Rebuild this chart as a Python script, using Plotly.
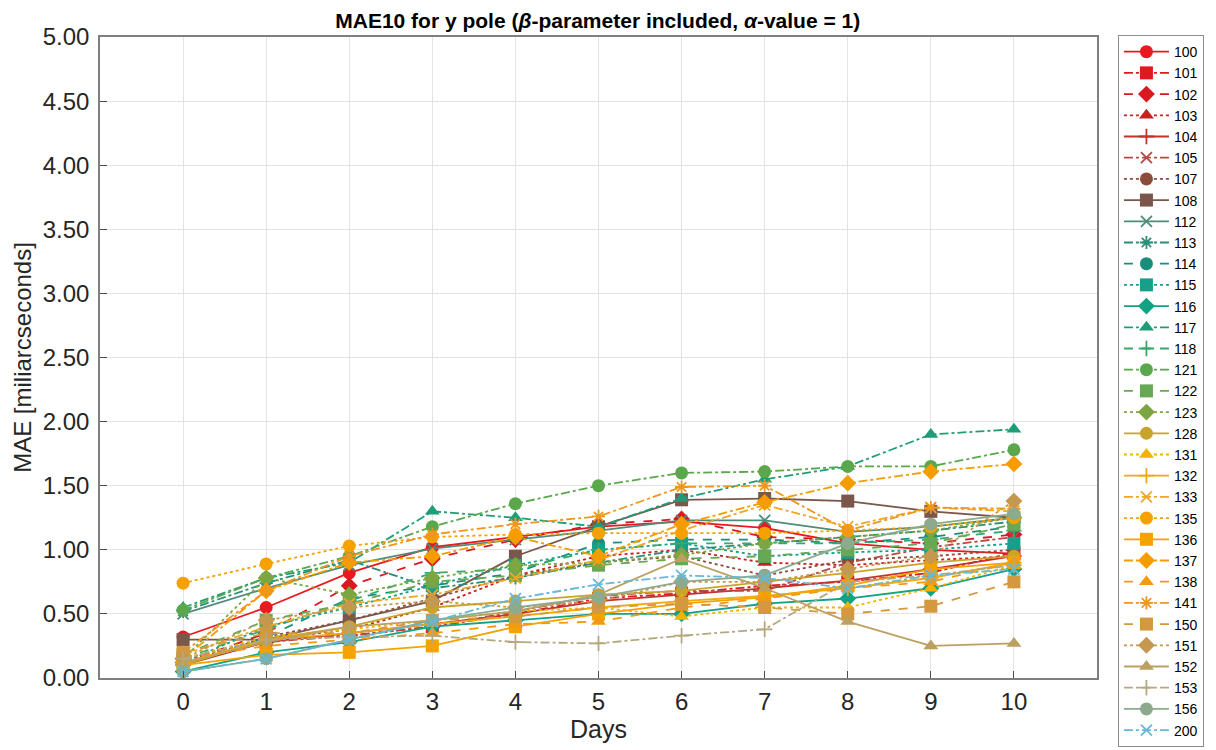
import plotly.graph_objects as go

days = list(range(0, 11))

series_names = ["100", "101", "102", "103", "104", "105", "107", "108",
                "112", "113", "114", "115", "116", "117", "118",
                "121", "122", "123",
                "128", "131", "132", "133", "135", "136", "137", "138", "141",
                "150", "151", "152", "153", "156", "200"]

v100 = [0.32, 0.55, 0.82, 1.02, 1.10, 1.18, 1.22, 1.17, 1.05, 1.00, 0.97]
v101 = [0.15, 0.30, 0.33, 0.40, 0.50, 0.62, 0.66, 0.72, 0.75, 0.82, 0.98]
v102 = [0.12, 0.35, 0.72, 0.93, 1.08, 1.20, 1.24, 1.10, 1.08, 1.05, 1.12]
v103 = [0.13, 0.30, 0.38, 0.55, 0.80, 0.95, 1.00, 0.90, 0.88, 0.92, 0.95]
v104 = [0.10, 0.28, 0.35, 0.42, 0.50, 0.60, 0.65, 0.70, 0.76, 0.85, 0.95]
v105 = [0.12, 0.28, 0.33, 0.40, 0.52, 0.64, 0.68, 0.68, 0.90, 1.02, 1.10]
v107 = [0.10, 0.32, 0.45, 0.62, 0.80, 0.90, 0.95, 0.80, 0.92, 0.95, 1.00]
v108 = [0.30, 0.30, 0.45, 0.60, 0.95, 1.18, 1.39, 1.40, 1.38, 1.30, 1.25]
v112 = [0.50, 0.70, 0.88, 1.01, 1.08, 1.15, 1.23, 1.23, 1.14, 1.18, 1.25]
v113 = [0.52, 0.74, 0.92, 0.70, 0.78, 0.90, 1.00, 1.05, 1.10, 1.15, 1.22]
v114 = [0.10, 0.32, 0.62, 0.72, 0.82, 1.05, 1.08, 1.08, 1.05, 1.10, 1.18]
v115 = [0.12, 0.40, 0.55, 0.72, 0.88, 1.00, 1.05, 0.95, 0.98, 1.00, 1.05]
v116 = [0.05, 0.20, 0.28, 0.40, 0.45, 0.50, 0.50, 0.58, 0.62, 0.70, 0.85]
v117 = [0.55, 0.78, 0.90, 1.30, 1.25, 1.18, 1.40, 1.55, 1.65, 1.90, 1.94]
v118 = [0.15, 0.38, 0.60, 0.82, 0.85, 1.00, 1.05, 1.05, 1.05, 1.08, 1.15]
v121 = [0.53, 0.78, 0.95, 1.18, 1.36, 1.50, 1.60, 1.61, 1.65, 1.65, 1.78]
v122 = [0.18, 0.45, 0.58, 0.75, 0.80, 0.88, 0.93, 0.95, 1.00, 1.05, 1.20]
v123 = [0.15, 0.78, 0.65, 0.78, 0.88, 0.90, 0.96, 1.05, 1.10, 1.15, 1.25]
v128 = [0.10, 0.30, 0.40, 0.55, 0.60, 0.65, 0.68, 0.75, 0.82, 0.90, 0.95]
v131 = [0.15, 0.32, 0.38, 0.45, 0.52, 0.55, 0.48, 0.55, 0.55, 0.70, 0.88]
v132 = [0.12, 0.30, 0.35, 0.42, 0.48, 0.55, 0.60, 0.64, 0.70, 0.78, 0.90]
v133 = [0.18, 0.40, 0.58, 0.65, 0.78, 0.92, 1.15, 1.35, 1.18, 1.33, 1.30]
v135 = [0.74, 0.89, 1.03, 1.10, 1.12, 1.13, 1.13, 1.13, 1.15, 1.18, 1.25]
v136 = [0.10, 0.18, 0.20, 0.25, 0.40, 0.50, 0.58, 0.63, 0.72, 0.85, 0.90]
v137 = [0.15, 0.68, 0.90, 0.95, 1.10, 0.95, 1.20, 1.37, 1.52, 1.61, 1.67]
v138 = [0.15, 0.25, 0.30, 0.35, 0.42, 0.44, 0.55, 0.62, 0.70, 0.75, 0.90]
v141 = [0.20, 0.68, 0.95, 1.12, 1.20, 1.26, 1.49, 1.50, 1.15, 1.33, 1.32]
v150 = [0.20, 0.35, 0.35, 0.45, 0.48, 0.55, 0.58, 0.55, 0.50, 0.56, 0.75]
v151 = [0.15, 0.45, 0.55, 0.60, 0.55, 0.60, 0.75, 0.75, 0.85, 0.95, 1.38]
v152 = [0.12, 0.28, 0.40, 0.45, 0.52, 0.65, 0.93, 0.70, 0.44, 0.25, 0.27]
v153 = [0.15, 0.30, 0.32, 0.33, 0.28, 0.27, 0.33, 0.38, 0.75, 0.80, 0.88]
v156 = [0.05, 0.15, 0.30, 0.45, 0.55, 0.63, 0.75, 0.80, 1.05, 1.20, 1.28]
v200 = [0.05, 0.15, 0.30, 0.44, 0.62, 0.73, 0.80, 0.78, 0.70, 0.80, 0.85]

series_values = [v100, v101, v102, v103, v104, v105, v107, v108,
                 v112, v113, v114, v115, v116, v117, v118,
                 v121, v122, v123,
                 v128, v131, v132, v133, v135, v136, v137, v138, v141,
                 v150, v151, v152, v153, v156, v200]

colors = ["#E8191F", "#E0191F", "#D9191F", "#C8201F", "#C2332B", "#B54A45", "#8E4A3A", "#7A574A",
          "#4E8C78", "#2C8E7A", "#1A8E7C", "#16A08A", "#13A283", "#1E9E78", "#38A86E",
          "#5AA84B", "#67A854", "#7CA642",
          "#C8A52A", "#F2B200", "#F0AA10", "#EFA626", "#F7A100", "#F5A300", "#F59C00", "#F29A10", "#F0951E",
          "#D4983F", "#C4984E", "#BBA060", "#B5A87E", "#8CAA8E", "#66B8D4"]

dashes = ["solid", "dashdot", "dash", "dot", "solid", "dashdot", "dot", "solid",
          "solid", "dashdot", "dash", "dot", "solid", "dashdot", "dash",
          "dashdot", "dash", "dot",
          "solid", "dot", "solid", "dashdot", "dot", "solid", "dashdot", "dash", "dashdot",
          "dash", "dot", "solid", "dashdot", "solid", "dashdot"]

symbols = ["circle", "square", "diamond", "triangle-up", "cross-thin", "x-thin", "circle", "square",
           "x-thin", "asterisk", "circle", "square", "diamond", "triangle-up", "cross-thin",
           "circle", "square", "diamond",
           "circle", "triangle-up", "cross-thin", "x-thin", "circle", "square", "diamond", "triangle-up", "asterisk",
           "square", "diamond", "triangle-up", "cross-thin", "circle", "x-thin"]

y_ticks = [0.0, 0.5, 1.0, 1.5, 2.0, 2.5, 3.0, 3.5, 4.0, 4.5, 5.0]
x_ticks = list(range(0, 11))

fig = go.Figure()
for name, vals, col, dsh, sym in zip(series_names, series_values, colors, dashes, symbols):
    thin = sym in ("cross-thin", "x-thin", "asterisk")
    fig.add_trace(go.Scatter(
        x=days, y=vals, name=name, mode="lines+markers",
        line=dict(color=col, width=1.8, dash=dsh),
        marker=dict(symbol=sym, size=13 if not thin else 11, color=col,
                    line=dict(color=col, width=1.8 if thin else 0)),
    ))

FONT = "Liberation Sans, Arial, sans-serif"
tick_font = dict(family=FONT, size=24, color="#262626")

fig.update_layout(
    width=1216, height=750,
    margin=dict(l=92, r=127, t=29, b=80),
    paper_bgcolor="white", plot_bgcolor="white",
    font=dict(family=FONT, color="#262626"),
    title=dict(text="<b>MAE10 for y pole (<i>β</i>-parameter included, <i>α</i>-value = 1)</b>",
               x=0.485, xanchor="center", y=0.983, yanchor="middle",
               font=dict(size=21, color="#000000")),
    xaxis=dict(range=[-1, 11], tickmode="array", tickvals=x_ticks,
               ticktext=[str(t) for t in x_ticks], tickfont=tick_font,
               showgrid=True, gridcolor="#E3E3E3", gridwidth=1,
               showline=True, linecolor="#7F7F7F", linewidth=1.5, mirror=True,
               ticks="inside", ticklen=7, tickcolor="#4D4D4D", zeroline=False,
               ticklabelstandoff=1,
               title=dict(text="Days", font=dict(size=25, color="#262626"), standoff=6)),
    yaxis=dict(range=[0, 5], tickmode="array", tickvals=y_ticks,
               ticktext=[f"{t:.2f}" for t in y_ticks], tickfont=tick_font,
               showgrid=True, gridcolor="#E3E3E3", gridwidth=1,
               showline=True, linecolor="#7F7F7F", linewidth=1.5, mirror=True,
               ticks="inside", ticklen=7, tickcolor="#4D4D4D", zeroline=False,
               ticklabelstandoff=4,
               title=dict(text="MAE [miliarcseconds]", font=dict(size=24, color="#262626"), standoff=4)),
    legend=dict(x=1.021, xanchor="left", y=1.003, yanchor="top",
                bordercolor="#8C8C8C", borderwidth=1, bgcolor="white",
                font=dict(size=14, color="#000000"), itemwidth=45,
                tracegroupgap=0, maxheight=740),
    showlegend=True,
)

fig.write_html("out.html")
